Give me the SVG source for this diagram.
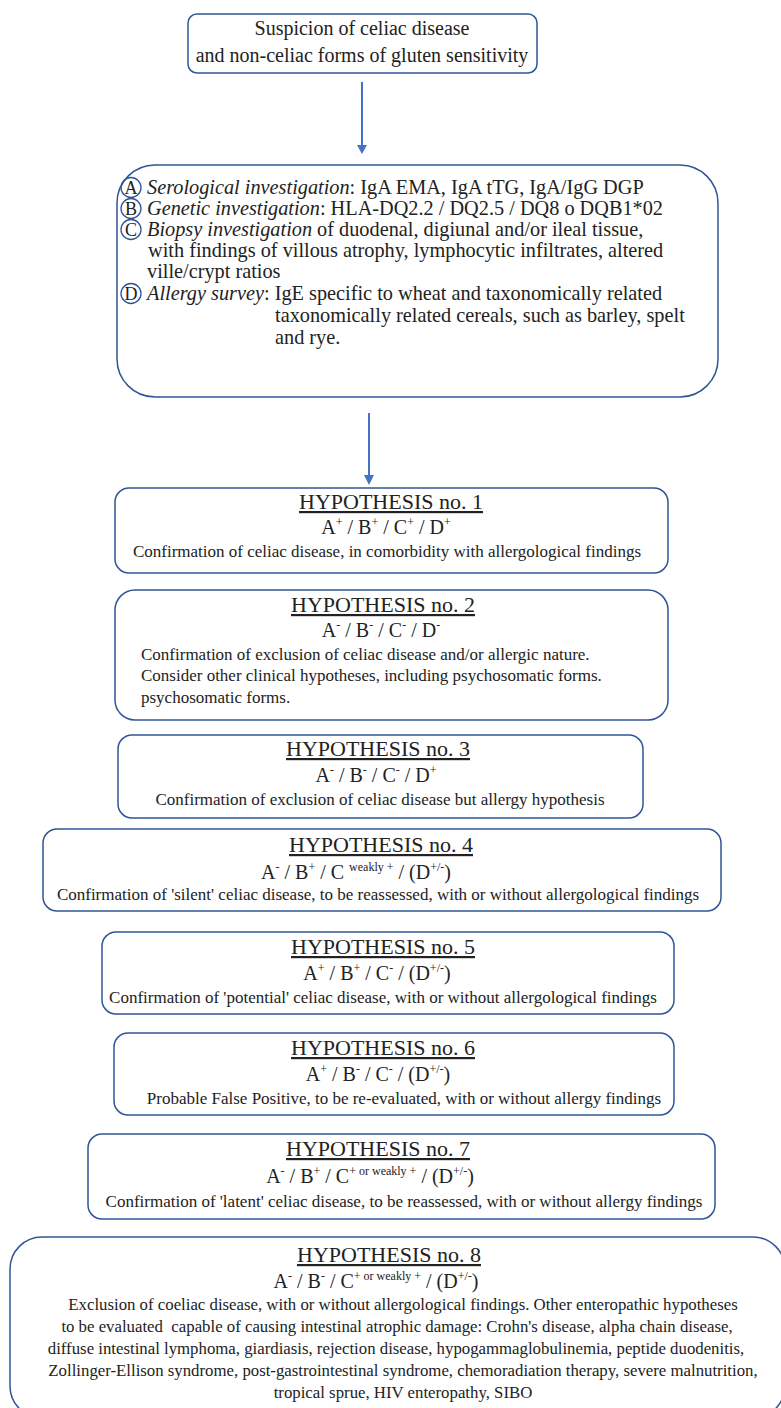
<svg xmlns="http://www.w3.org/2000/svg" width="781" height="1408" viewBox="0 0 781 1408">
<defs>
<style>
.box{fill:#fff;stroke:#2f5597;stroke-width:1.5}
.t{font-family:"Liberation Serif","Times New Roman",serif;fill:#222}
.top{font-size:20px}
.big{font-size:20.3px}
.lt{font-size:18px}
.ttl{font-size:22px;text-decoration:underline}
.f{font-size:20px}
.s{font-size:12px}
.d{font-size:17px}
.d8{font-size:16.8px}
.conn{stroke:#4472c4;stroke-width:2;fill:none}
.head{fill:#4472c4}
.circ{fill:none;stroke:#2f5597;stroke-width:1.3}
</style>
</defs>
<rect width="781" height="1408" fill="#fff"/>
<g id="connectors">
<line class="conn" x1="362" y1="82" x2="362" y2="146"/>
<path class="head" d="M357,145 L367,145 L362,154 z"/>
<line class="conn" x1="369" y1="413" x2="369" y2="476"/>
<path class="head" d="M364,475 L374,475 L369,485 z"/>
</g>
<g id="start">
<rect class="box" x="188" y="14" width="349" height="59" rx="9"/>
<text class="t top" x="362" y="35" text-anchor="middle">Suspicion of celiac disease</text>
<text class="t top" x="362" y="62" text-anchor="middle">and non-celiac forms of gluten sensitivity</text>
</g>
<g id="investigations">
<rect class="box" x="117" y="165" width="601" height="232" rx="38"/>
<circle class="circ" cx="131" cy="187.5" r="10"/>
<text class="t lt" x="131" y="194" text-anchor="middle">A</text>
<text class="t big" x="147" y="194"><tspan font-style="italic">Serological investigation</tspan>: IgA EMA, IgA tTG, IgA/IgG DGP</text>
<circle class="circ" cx="131" cy="208.5" r="10"/>
<text class="t lt" x="131" y="215" text-anchor="middle">B</text>
<text class="t big" x="147" y="215"><tspan font-style="italic">Genetic investigation</tspan>: HLA-DQ2.2 / DQ2.5 / DQ8 o DQB1*02</text>
<circle class="circ" cx="131" cy="229.5" r="10"/>
<text class="t lt" x="131" y="236" text-anchor="middle">C</text>
<text class="t big" x="147" y="236"><tspan font-style="italic">Biopsy investigation</tspan> of duodenal, digiunal and/or ileal tissue,</text>
<text class="t big" x="148" y="257">with findings of villous atrophy, lymphocytic infiltrates, altered</text>
<text class="t big" x="147" y="278">ville/crypt ratios</text>
<circle class="circ" cx="131" cy="293.5" r="10"/>
<text class="t lt" x="131" y="300" text-anchor="middle">D</text>
<text class="t big" x="147" y="300"><tspan font-style="italic">Allergy survey</tspan>: IgE specific to wheat and taxonomically related</text>
<text class="t big" x="275" y="322">taxonomically related cereals, such as barley, spelt</text>
<text class="t big" x="275" y="344">and rye.</text>
</g>
<g id="h1">
<rect class="box" x="115" y="488" width="553" height="85" rx="14"/>
<text class="t ttl" x="391" y="509" text-anchor="middle">HYPOTHESIS no. 1</text>
<text class="t f" x="386" y="534" text-anchor="middle">A<tspan class="s" dy="-8">+</tspan><tspan dy="8"> / B</tspan><tspan class="s" dy="-8">+</tspan><tspan dy="8"> / C</tspan><tspan class="s" dy="-8">+</tspan><tspan dy="8"> / D</tspan><tspan class="s" dy="-8">+</tspan></text>
<text class="t d" x="387" y="557" text-anchor="middle">Confirmation of celiac disease, in comorbidity with allergological findings</text>
</g>
<g id="h2">
<rect class="box" x="115" y="590" width="553" height="130" rx="20"/>
<text class="t ttl" x="383" y="612" text-anchor="middle">HYPOTHESIS no. 2</text>
<text class="t f" x="381" y="637" text-anchor="middle">A<tspan class="s" dy="-8">-</tspan><tspan dy="8"> / B</tspan><tspan class="s" dy="-8">-</tspan><tspan dy="8"> / C</tspan><tspan class="s" dy="-8">-</tspan><tspan dy="8"> / D</tspan><tspan class="s" dy="-8">-</tspan></text>
<text class="t d" x="141" y="660">Confirmation of exclusion of celiac disease and/or allergic nature.</text>
<text class="t d" x="141" y="681">Consider other clinical hypotheses, including psychosomatic forms.</text>
<text class="t d" x="141" y="703">psychosomatic forms.</text>
</g>
<g id="h3">
<rect class="box" x="118" y="735" width="525" height="83" rx="14"/>
<text class="t ttl" x="378" y="756" text-anchor="middle">HYPOTHESIS no. 3</text>
<text class="t f" x="376" y="782" text-anchor="middle">A<tspan class="s" dy="-8">-</tspan><tspan dy="8"> / B</tspan><tspan class="s" dy="-8">-</tspan><tspan dy="8"> / C</tspan><tspan class="s" dy="-8">-</tspan><tspan dy="8"> / D</tspan><tspan class="s" dy="-8">+</tspan></text>
<text class="t d" x="380" y="805" text-anchor="middle">Confirmation of exclusion of celiac disease but allergy hypothesis</text>
</g>
<g id="h4">
<rect class="box" x="43" y="829" width="678" height="82" rx="14"/>
<text class="t ttl" x="381" y="852" text-anchor="middle">HYPOTHESIS no. 4</text>
<text class="t f" x="356" y="879" text-anchor="middle">A<tspan class="s" dy="-8">-</tspan><tspan dy="8"> / B</tspan><tspan class="s" dy="-8">+</tspan><tspan dy="8"> / C </tspan><tspan class="s" dy="-8">weakly +</tspan><tspan dy="8"> / (D</tspan><tspan class="s" dy="-8">+/-</tspan><tspan dy="8">)</tspan></text>
<text class="t d" x="378" y="900" text-anchor="middle">Confirmation of 'silent' celiac disease, to be reassessed, with or without allergological findings</text>
</g>
<g id="h5">
<rect class="box" x="102" y="932" width="572" height="82" rx="14"/>
<text class="t ttl" x="383" y="954" text-anchor="middle">HYPOTHESIS no. 5</text>
<text class="t f" x="377" y="980" text-anchor="middle">A<tspan class="s" dy="-8">+</tspan><tspan dy="8"> / B</tspan><tspan class="s" dy="-8">+</tspan><tspan dy="8"> / C</tspan><tspan class="s" dy="-8">-</tspan><tspan dy="8"> / (D</tspan><tspan class="s" dy="-8">+/-</tspan><tspan dy="8">)</tspan></text>
<text class="t d" x="383" y="1003" text-anchor="middle">Confirmation of 'potential' celiac disease, with or without allergological findings</text>
</g>
<g id="h6">
<rect class="box" x="114" y="1033" width="560" height="82" rx="14"/>
<text class="t ttl" x="383" y="1055" text-anchor="middle">HYPOTHESIS no. 6</text>
<text class="t f" x="378" y="1081" text-anchor="middle">A<tspan class="s" dy="-8">+</tspan><tspan dy="8"> / B</tspan><tspan class="s" dy="-8">-</tspan><tspan dy="8"> / C</tspan><tspan class="s" dy="-8">-</tspan><tspan dy="8"> / (D</tspan><tspan class="s" dy="-8">+/-</tspan><tspan dy="8">)</tspan></text>
<text class="t d" x="404" y="1104" text-anchor="middle">Probable False Positive, to be re-evaluated, with or without allergy findings</text>
</g>
<g id="h7">
<rect class="box" x="88" y="1134" width="627" height="85" rx="14"/>
<text class="t ttl" x="378" y="1156" text-anchor="middle">HYPOTHESIS no. 7</text>
<text class="t f" x="370" y="1183" text-anchor="middle">A<tspan class="s" dy="-8">-</tspan><tspan dy="8"> / B</tspan><tspan class="s" dy="-8">+</tspan><tspan dy="8"> / C</tspan><tspan class="s" dy="-8">+ or weakly +</tspan><tspan dy="8"> / (D</tspan><tspan class="s" dy="-8">+/-</tspan><tspan dy="8">)</tspan></text>
<text class="t d" x="404" y="1207" text-anchor="middle">Confirmation of 'latent' celiac disease, to be reassessed, with or without allergy findings</text>
</g>
<g id="h8">
<rect class="box" x="10" y="1237" width="775" height="181" rx="32"/>
<text class="t ttl" x="389" y="1262" text-anchor="middle">HYPOTHESIS no. 8</text>
<text class="t f" x="376" y="1288" text-anchor="middle">A<tspan class="s" dy="-8">-</tspan><tspan dy="8"> / B</tspan><tspan class="s" dy="-8">-</tspan><tspan dy="8"> / C</tspan><tspan class="s" dy="-8">+ or weakly +</tspan><tspan dy="8"> / (D</tspan><tspan class="s" dy="-8">+/-</tspan><tspan dy="8">)</tspan></text>
<text class="t d8" x="403" y="1310" text-anchor="middle">Exclusion of coeliac disease, with or without allergological findings. Other enteropathic hypotheses</text>
<text class="t d8" x="397" y="1332" text-anchor="middle" xml:space="preserve">to be evaluated  capable of causing intestinal atrophic damage: Crohn's disease, alpha chain disease,</text>
<text class="t d8" x="396" y="1354" text-anchor="middle">diffuse intestinal lymphoma, giardiasis, rejection disease, hypogammaglobulinemia, peptide duodenitis,</text>
<text class="t d8" x="403" y="1376" text-anchor="middle">Zollinger-Ellison syndrome, post-gastrointestinal syndrome, chemoradiation therapy, severe malnutrition,</text>
<text class="t d8" x="403" y="1398" text-anchor="middle">tropical sprue, HIV enteropathy, SIBO</text>
</g>
</svg>
